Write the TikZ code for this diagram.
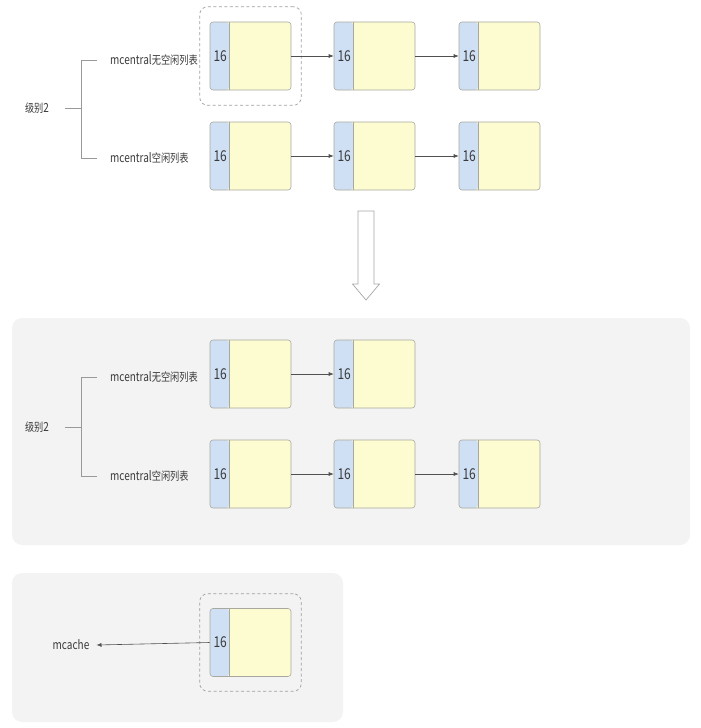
\documentclass[tikz,border=0pt]{standalone}
\usepackage{fontspec}
\setmainfont[FakeStretch=0.8]{Noto Sans CJK SC}
\usetikzlibrary{arrows.meta,fit}
\definecolor{blu}{HTML}{CFE0F5}
\definecolor{yel}{HTML}{FDFBD0}
\definecolor{bord}{HTML}{A8A8A0}
\definecolor{txt}{HTML}{3A3A3A}
\definecolor{panel}{HTML}{F3F3F3}
\definecolor{lin}{HTML}{505050}
\newcommand\latf{\fontsize{12.5}{15}\selectfont}
\newcommand\zhf{\fontsize{11.5}{14}\selectfont}
\newcommand\blk[3]{%
  \node[blk] (#1) at (#2,#3) {};
  \node[num] at ([xshift=10.5pt]#1.west) {16};}
\begin{document}
\begin{tikzpicture}[x=1pt,y=-1pt,
  blk/.style={draw=bord, line width=0.6pt, fill=yel, rounded corners=3pt,
    minimum width=81pt, minimum height=68pt, inner sep=0pt,
    path picture={\fill[blu] (path picture bounding box.south west) rectangle ([xshift=19pt]path picture bounding box.north west);
      \draw[bord,line width=0.6pt] ([xshift=19pt]path picture bounding box.south west) -- ([xshift=19pt]path picture bounding box.north west);}},
  num/.style={inner sep=0pt, text=txt, font=\fontsize{15}{18}\selectfont},
  lab/.style={inner sep=0pt, anchor=west, text=txt},
  arr/.style={draw=lin, line width=0.6pt, -{Latex[length=5pt,width=4pt]}},
  brk/.style={draw=gray!80, line width=0.6pt},
  dbox/.style={draw=gray!75, line width=0.7pt, dash pattern=on 3pt off 2.5pt, rounded corners=8pt, inner xsep=10pt, inner ysep=15pt},
  pnl/.style={fill=panel, rounded corners=10pt}]
\useasboundingbox (0,0) rectangle (701,728);

% panels
\fill[pnl] (12,318) rectangle (690,545);
\fill[pnl] (12,573) rectangle (343,722);

% ---------- top section ----------
\blk{a1}{250.5}{56}
\blk{a2}{374.5}{56}
\blk{a3}{499.5}{56}
\blk{b1}{250.5}{156}
\blk{b2}{374.5}{156}
\blk{b3}{499.5}{156}
\node[dbox, fit=(a1)] (d1) {};
\draw[arr] (a1.east) -- (a2.west);
\draw[arr] (a2.east) -- (a3.west);
\draw[arr] (b1.east) -- (b2.west);
\draw[arr] (b2.east) -- (b3.west);

\node[lab] (l1) at (110,60) {{\latf mcentral}{\zhf 无空闲列表}};
\node[lab] (l2) at (110,158) {{\latf mcentral}{\zhf 空闲列表}};
\node[inner sep=0pt, text=txt] (g1) at (37,108) {{\zhf 级别}{\latf 2}};
\draw[brk] ([xshift=-13pt]l1.west) -- ++(-16,0) coordinate (v1) |- ([xshift=-13pt]l2.west);
\draw[brk] ([xshift=16pt]g1.east) -- (v1 |- g1.east);

% hollow arrow
\draw[draw=gray!70, fill=white, line width=0.7pt, line join=miter]
  (358,211) -- (374,211) -- (374,284) -- (379.5,284) -- (366,300) -- (352.5,284) -- (358,284) -- cycle;

% ---------- middle section ----------
\blk{e1}{250.5}{374}
\blk{e2}{374.5}{374}
\blk{f1}{250.5}{474}
\blk{f2}{374.5}{474}
\blk{f3}{499.5}{474}
\draw[arr] (e1.east) -- (e2.west);
\draw[arr] (f1.east) -- (f2.west);
\draw[arr] (f2.east) -- (f3.west);

\node[lab] (l3) at (110,377) {{\latf mcentral}{\zhf 无空闲列表}};
\node[lab] (l4) at (110,476) {{\latf mcentral}{\zhf 空闲列表}};
\node[inner sep=0pt, text=txt] (g2) at (37,427) {{\zhf 级别}{\latf 2}};
\draw[brk] ([xshift=-13pt]l3.west) -- ++(-16,0) coordinate (v2) |- ([xshift=-13pt]l4.west);
\draw[brk] ([xshift=16pt]g2.east) -- (v2 |- g2.east);

% ---------- bottom section ----------
\blk{c1}{250.5}{642.5}
\node[dbox, fit=(c1), inner ysep=14.5pt] (d2) {};
\node[inner sep=0pt, text=txt] (m) at (71,645) {\latf mcache};
\draw[arr] (c1.west) -- ([xshift=7pt]m.east);
\end{tikzpicture}
\end{document}
